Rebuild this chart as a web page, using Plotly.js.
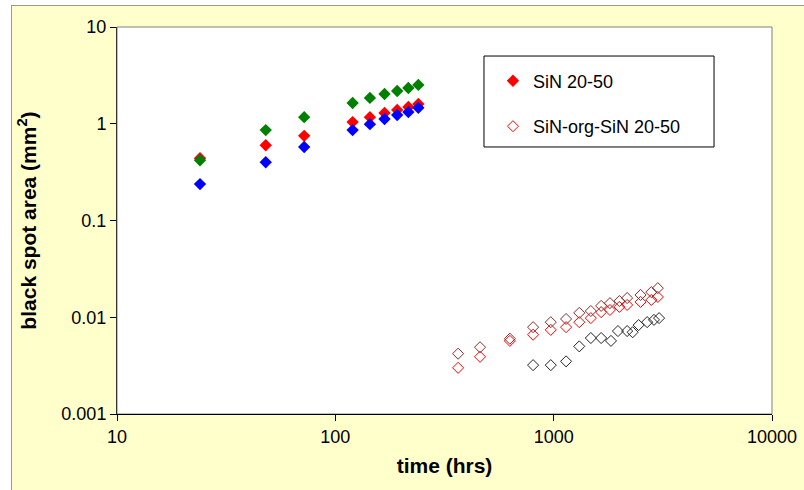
<!DOCTYPE html>
<html>
<head>
<meta charset="utf-8">
<script src="https://cdn.plot.ly/plotly-3.0.1.min.js"></script>
<style>
  html, body { margin: 0; padding: 0; background: #ffffff; width: 804px; height: 490px; overflow: hidden; }
  #frame { position: absolute; left: 11px; top: 5px; width: 793px; height: 485px;
           border-left: 1px solid #9c9c84; border-top: 1px solid #9c9c84; box-sizing: border-box; background: #FFFFCC; }
  #chart { width: 792px; height: 484px; }
</style>
</head>
<body>
<div id="frame"><div id="chart"></div></div>
<script>
// ---- data ----
const tFilled = [24, 48, 72, 120, 144, 168, 192, 216, 240];
const sinRed   = [0.44, 0.60, 0.75, 1.04, 1.17, 1.29, 1.39, 1.49, 1.60];
const sinGreen = [0.42, 0.86, 1.17, 1.64, 1.85, 2.03, 2.18, 2.34, 2.52];
const sinBlue  = [0.238, 0.40, 0.575, 0.86, 0.99, 1.12, 1.23, 1.32, 1.46];

const tOpen = [365, 460, 630, 805, 970, 1140, 1310, 1480, 1650, 1810, 2000, 2170, 2500, 2800, 3000];
const orgDarkRed = [0.0042, 0.0049, 0.0060, 0.0079, 0.0089, 0.0096, 0.0111, 0.0116, 0.0131, 0.0140, 0.0147, 0.0158, 0.0170, 0.0182, 0.0200];
const orgRed     = [0.0030, 0.0039, 0.0057, 0.0066, 0.0074, 0.0079, 0.0089, 0.0098, 0.0113, 0.0119, 0.0128, 0.0134, 0.0144, 0.0151, 0.0162];

const tBlack = [805, 970, 1140, 1310, 1480, 1650, 1830, 1970, 2170, 2300, 2450, 2680, 2880, 3040];
const orgBlack = [0.0032, 0.0032, 0.0035, 0.0050, 0.0061, 0.0061, 0.0057, 0.0072, 0.0072, 0.0070, 0.0083, 0.0089, 0.0094, 0.0098];

const xTicks = [10, 100, 1000, 10000];
const xTickText = ['10', '100', '1000', '10000'];
const yTicks = [0.001, 0.01, 0.1, 1, 10];
const yTickText = ['0.001', '0.01', '0.1', '1', '10'];

const legendNames = ['SiN 20-50', 'SiN-org-SiN 20-50'];

// ---- traces ----
function filled(x, y, color, name, show, group, rank) {
  return { type: 'scatter', mode: 'markers', x: x, y: y, name: name, showlegend: show, legendgroup: group, legendrank: rank,
           marker: { symbol: 'diamond', size: 9.5, color: color, line: { width: 0 } }, hoverinfo: 'x+y' };
}
function open(x, y, color, name, show, group, rank) {
  return { type: 'scatter', mode: 'markers', x: x, y: y, name: name, showlegend: show, legendgroup: group, legendrank: rank,
           marker: { symbol: 'diamond-open', size: 8.5, color: color, line: { width: 1, color: color } }, hoverinfo: 'x+y' };
}

const data = [
  open(tBlack, orgBlack, '#222222', 'black', false, 'c', 3),
  open(tOpen, orgRed, '#FF0000', legendNames[1], true, 'b', 2),
  open(tOpen, orgDarkRed, '#8B2A2A', 'darkred', false, 'd', 4),
  filled(tFilled, sinRed, '#FF0000', legendNames[0], true, 'a', 1),
  filled(tFilled, sinGreen, '#008000', 'green', false, 'e', 5),
  filled(tFilled, sinBlue, '#0000FF', 'blue', false, 'f', 6)
];

const font = 'Liberation Sans, Arial, sans-serif';

const layout = {
  width: 792, height: 484,
  margin: { l: 105, r: 32, t: 21, b: 76 },
  paper_bgcolor: '#FFFFCC',
  plot_bgcolor: '#FFFFFF',
  font: { family: font, size: 18, color: '#000000' },
  showlegend: true,
  legend: {
    x: 0.574, y: 0.908, xanchor: 'left', yanchor: 'top',
    bgcolor: 'rgba(0,0,0,0)', borderwidth: 0,
    traceorder: 'grouped', tracegroupgap: 19,
    font: { family: font, size: 18, color: '#000000' },
    itemwidth: 30
  },
  xaxis: {
    type: 'log', range: [1, 4],
    tickvals: xTicks, ticktext: xTickText,
    ticks: 'outside', ticklen: 6, tickcolor: '#000000', tickwidth: 1,
    showline: true, linecolor: '#000000', linewidth: 1,
    showgrid: false, zeroline: false,
    tickfont: { family: font, size: 18 },
    title: { text: '<b>time (hrs)</b>', font: { family: font, size: 21 }, standoff: 12 }
  },
  yaxis: {
    type: 'log', range: [-3, 1],
    tickvals: yTicks, ticktext: yTickText,
    ticks: 'outside', ticklen: 6, tickcolor: '#000000', tickwidth: 1,
    showline: true, linecolor: '#333333', linewidth: 1,
    showgrid: false, zeroline: false,
    tickfont: { family: font, size: 18 },
    title: { text: '<b>black spot area (mm<sup>2</sup>)</b>', font: { family: font, size: 21 }, standoff: 19 }
  },
  shapes: [
    { type: 'rect', xref: 'paper', yref: 'paper', x0: 0, x1: 1, y0: 0, y1: 1,
      line: { color: '#808080', width: 1 }, layer: 'below' },
    { type: 'rect', xref: 'paper', yref: 'paper', x0: 0.5603, x1: 0.9115, y0: 0.690, y1: 0.925,
      line: { color: '#000000', width: 1 }, fillcolor: '#FFFFFF', layer: 'below' }
  ]
};

Plotly.newPlot('chart', data, layout, { displayModeBar: false, staticPlot: true });
</script>
</body>
</html>
